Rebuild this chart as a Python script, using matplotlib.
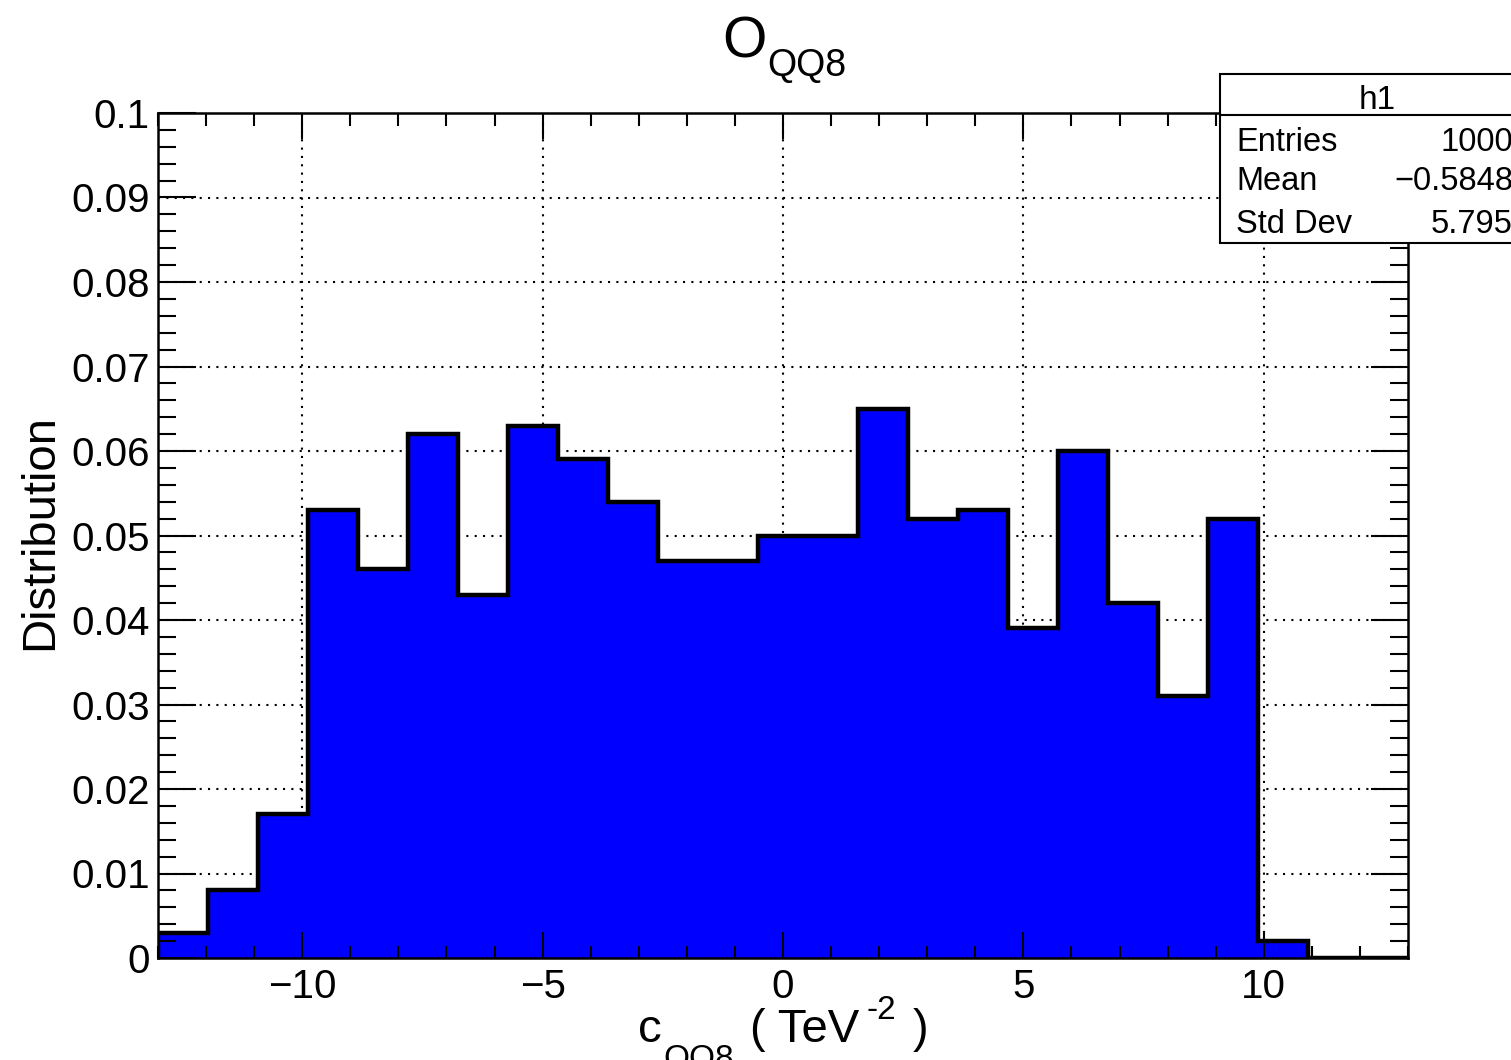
import numpy as np
import matplotlib
matplotlib.use("Agg")
import matplotlib.pyplot as plt
from matplotlib.patches import Rectangle
from matplotlib.lines import Line2D
from matplotlib.ticker import MultipleLocator, FuncFormatter

plt.rcParams['font.family'] = ['Liberation Sans', 'DejaVu Sans']

# histogram h1: 25 bins from -13 to 13
x_lo, x_hi, n_bins = -13, 13, 25
fractions = [0.003, 0.008, 0.017, 0.053, 0.046, 0.062, 0.043, 0.063, 0.059,
             0.054, 0.047, 0.047, 0.050, 0.050, 0.065, 0.052, 0.053, 0.039,
             0.060, 0.042, 0.031, 0.052, 0.002, 0.0, 0.0]
stat_names = ['Entries', 'Mean', 'Std Dev']
stat_values = ['1000', '\u22120.5848', '5.795']

W, H = 1511, 1060
fig = plt.figure(figsize=(W / 100, H / 100), dpi=100)
ax = fig.add_axes([158 / W, 1 - 958 / H, 1250 / W, 845 / H])

edges = np.linspace(x_lo, x_hi, n_bins + 1)
ax.stairs(fractions, edges, fill=True, facecolor='#0000ff', edgecolor='black',
          linewidth=3.2, zorder=1)

ax.set_xlim(x_lo, x_hi)
ax.set_ylim(0, 0.1)

# dotted grid under the histogram
for gx in [-10, -5, 0, 5, 10]:
    ax.axvline(gx, color='black', linestyle=(0, (1, 3)), linewidth=1.5, zorder=0.5)
for gy in np.arange(1, 10) * 0.01:
    ax.axhline(gy, color='black', linestyle=(0, (1, 3)), linewidth=1.5, zorder=0.5)

ax.xaxis.set_major_locator(MultipleLocator(5))
ax.xaxis.set_minor_locator(MultipleLocator(1))
ax.yaxis.set_major_locator(MultipleLocator(0.01))
ax.yaxis.set_minor_locator(MultipleLocator(0.002))
ax.xaxis.set_major_formatter(FuncFormatter(lambda v, p: ('%g' % v).replace('-', '\u2212')))
ax.yaxis.set_major_formatter(FuncFormatter(lambda v, p: '%g' % round(v, 4)))

ax.tick_params(axis='both', which='both', direction='in', top=True, right=True,
               width=1.5, labelsize=29)
ax.tick_params(axis='x', which='major', length=19, pad=7)
ax.tick_params(axis='x', which='minor', length=9)
ax.tick_params(axis='y', which='major', length=27, pad=6)
ax.tick_params(axis='y', which='minor', length=13)
for s in ax.spines.values():
    s.set_linewidth(1.8)
    s.set_zorder(3)

# title O_QQ8
fig.text(722 / W, 1 - 57 / H, 'O', fontsize=41, ha='left', va='baseline')
fig.text(767 / W, 1 - 76 / H, 'QQ8', fontsize=27, ha='left', va='baseline')

# x axis title
for s, px, py, size in [('c', 638, 1042, 34), ('QQ8', 663, 1068, 24),
                        ('( TeV', 750, 1042, 34), ('-2', 867, 1019, 24),
                        (')', 913, 1042, 34)]:
    fig.text(px / W, 1 - py / H, s, fontsize=size, ha='left', va='baseline')

# y axis title
fig.text(40 / W, 1 - 532 / H, 'Distribution', fontsize=34, rotation=90,
         ha='center', va='center')

# stats box
box = Rectangle((1220 / W, 1 - 243 / H), 330 / W, 169 / H, transform=fig.transFigure,
                facecolor='white', edgecolor='black', linewidth=1.5, zorder=5)
fig.add_artist(box)
fig.add_artist(Line2D([1220 / W, 1], [1 - 115 / H, 1 - 115 / H], transform=fig.transFigure,
                      color='black', linewidth=1.5, zorder=6))
fig.text(1377 / W, 1 - 109 / H, 'h1', fontsize=24, ha='center', va='baseline', zorder=7)
for name, val, py in zip(stat_names, stat_values, [151, 190, 233]):
    fig.text(1236 / W, 1 - py / H, name, fontsize=23.5, ha='left', va='baseline', zorder=7)
    fig.text(1513 / W, 1 - py / H, val, fontsize=23.5, ha='right', va='baseline', zorder=7)

fig.savefig('out.png', dpi=100)
